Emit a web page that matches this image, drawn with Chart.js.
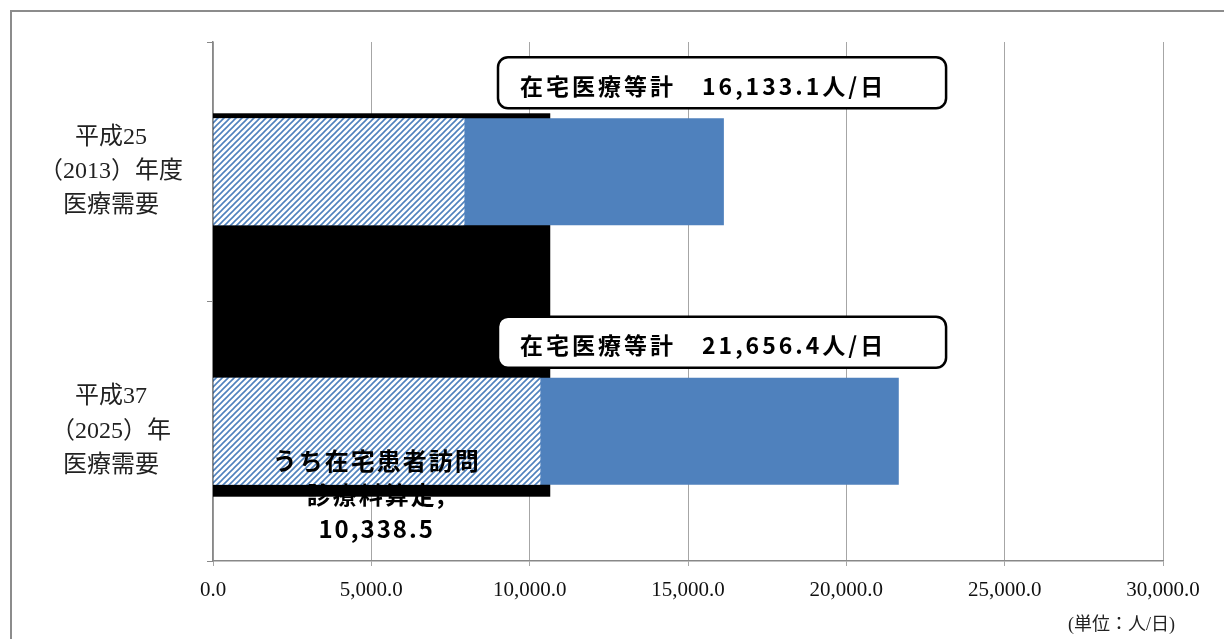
<!DOCTYPE html>
<html lang="ja">
<head>
<meta charset="utf-8">
<script src="https://cdn.jsdelivr.net/npm/chart.js@4"></script>
<style>
  html, body { margin: 0; padding: 0; background: #fff; overflow: hidden; }
  #wrap { position: relative; width: 1224px; height: 639px; }
  #frame { position: absolute; left: 10px; top: 10px; width: 1300px; height: 700px; border: 2.5px solid #8c8c8c; pointer-events: none; }
</style>
</head>
<body>
<div id="wrap">
  <canvas id="chart"></canvas>
  <div id="frame"></div>
</div>
<script>
// data
const categories = [
    ['平成25', '（2013）年度', '医療需要'],
    ['平成37', '（2025）年', '医療需要']
];
const totalLabel = '在宅医療等計';
const totalValues = [16133.1, 21656.4];
const visitLabel = 'うち在宅患者訪問診療料算定';
const visitValues = [7940, 10338.5];
const xTickLabels = ['0.0', '5,000.0', '10,000.0', '15,000.0', '20,000.0', '25,000.0', '30,000.0'];
const unitLabel = '(単位：人/日)';

const BLUE = '#4f81bd';
const SERIF = '"Liberation Serif", "Noto Sans CJK JP", serif';
const GOTHIC = '"Noto Sans CJK JP", sans-serif';

const fmt = v => v.toLocaleString('en-US', { minimumFractionDigits: 1, maximumFractionDigits: 1 });

function makeHatch(ctx) {
    const c = document.createElement('canvas');
    c.width = 6; c.height = 6;
    const g = c.getContext('2d');
    g.fillStyle = '#fff';
    g.fillRect(0, 0, 6, 6);
    g.strokeStyle = BLUE;
    g.lineWidth = 1.6;
    g.beginPath();
    g.moveTo(0, 6); g.lineTo(6, 0);
    g.moveTo(-3, 3); g.lineTo(3, -3);
    g.moveTo(3, 9); g.lineTo(9, 3);
    g.stroke();
    return ctx.createPattern(c, 'repeat');
}

function roundRect(ctx, x, y, w, h, r) {
    ctx.beginPath();
    ctx.moveTo(x + r, y);
    ctx.arcTo(x + w, y, x + w, y + h, r);
    ctx.arcTo(x + w, y + h, x, y + h, r);
    ctx.arcTo(x, y + h, x, y, r);
    ctx.arcTo(x, y, x + w, y, r);
    ctx.closePath();
}

// black block behind the bars, callouts, data label and unit note
const overlayPlugin = {
    id: 'overlay',
    beforeDatasetsDraw(chart) {
        const { ctx, scales: { x } } = chart;
        const bars = chart.getDatasetMeta(1).data;
        if (bars.length < 2) return;
        const top = bars[0].y - bars[0].height / 2 - 5;
        const bottom = bars[1].y + bars[1].height / 2 + 12;
        const left = x.getPixelForValue(0);
        ctx.save();
        ctx.fillStyle = '#000';
        ctx.fillRect(left, top, x.getPixelForValue(10650) - left, bottom - top);
        ctx.restore();
    },
    afterDatasetsDraw(chart) {
        const { ctx, scales: { x } } = chart;
        const bars = chart.getDatasetMeta(1).data;
        ctx.save();
        bars.forEach((bar, i) => {
            const bx = x.getPixelForValue(9000);
            const bw = x.getPixelForValue(23150) - bx;
            const bBottom = bar.y - bar.height / 2 - 10;
            const bh = 51;
            roundRect(ctx, bx, bBottom - bh, bw, bh, 10);
            ctx.fillStyle = '#fff';
            ctx.fill();
            ctx.lineWidth = 2.5;
            ctx.strokeStyle = '#000';
            ctx.stroke();
            ctx.fillStyle = '#000';
            ctx.font = 'bold 23px ' + GOTHIC;
            ctx.letterSpacing = '3px';
            ctx.textAlign = 'left';
            ctx.textBaseline = 'middle';
            ctx.fillText(totalLabel + '　' + fmt(totalValues[i]) + '人/日', bx + 22, bBottom - bh / 2 + 3);
        });

        // data label on the 2025 hatched segment
        const vb = chart.getDatasetMeta(0).data[1];
        if (vb) {
            const cx = x.getPixelForValue(visitValues[1] / 2);
            const lines = [visitLabel.slice(0, 8), visitLabel.slice(8) + ',', fmt(visitValues[1])];
            ctx.font = 'bold 24px ' + GOTHIC;
            ctx.letterSpacing = '2px';
            ctx.textAlign = 'center';
            ctx.textBaseline = 'middle';
            ctx.fillStyle = '#000';
            lines.forEach((t, k) => ctx.fillText(t, cx, vb.y + 30 + k * 34));
        }
        ctx.restore();
    },
    afterDraw(chart) {
        const { ctx, chartArea } = chart;
        ctx.save();
        ctx.font = '18px ' + SERIF;
        ctx.fillStyle = '#222';
        ctx.textAlign = 'right';
        ctx.textBaseline = 'middle';
        ctx.fillText(unitLabel, chartArea.right + 12, 625);
        ctx.restore();
    }
};

function initChart() {
    const canvas = document.getElementById('chart');
    const hatch = makeHatch(canvas.getContext('2d'));
    new Chart(canvas, {
        type: 'bar',
        data: {
            labels: categories,
            datasets: [
                { label: visitLabel, data: visitValues, backgroundColor: hatch, order: 1 },
                { label: totalLabel, data: totalValues, backgroundColor: BLUE, order: 2 }
            ]
        },
        options: {
            indexAxis: 'y',
            responsive: true,
            maintainAspectRatio: false,
            animation: false,
            grouped: false,
            barPercentage: 0.412,
            categoryPercentage: 1.0,
            layout: { padding: { left: 12, top: 42, right: 61, bottom: 0 } },
            plugins: { legend: { display: false }, tooltip: { enabled: false } },
            scales: {
                x: {
                    min: 0, max: 30000,
                    ticks: {
                        stepSize: 5000, autoSkip: false, maxRotation: 0,
                        callback: (v, i) => xTickLabels[i],
                        font: { family: SERIF, size: 21 }, color: '#111', padding: 12
                    },
                    grid: { color: '#a6a6a6', lineWidth: 1, tickLength: 5 },
                    border: { color: '#888', width: 1.5 },
                    afterFit(s) { s.height = 78; s.paddingLeft = 0; s.paddingRight = 0; }
                },
                y: {
                    grid: { drawOnChartArea: false, tickLength: 6, color: '#888', offset: true },
                    border: { color: '#888', width: 1.5 },
                    ticks: {
                        font: { family: SERIF, size: 24, lineHeight: 1.42 },
                        color: '#222', crossAlign: 'center', padding: 24
                    },
                    afterFit(s) { s.width = 201; s.paddingTop = 0; s.paddingBottom = 0; }
                }
            }
        },
        plugins: [overlayPlugin]
    });
}

document.addEventListener('DOMContentLoaded', initChart);
</script>
</body>
</html>
